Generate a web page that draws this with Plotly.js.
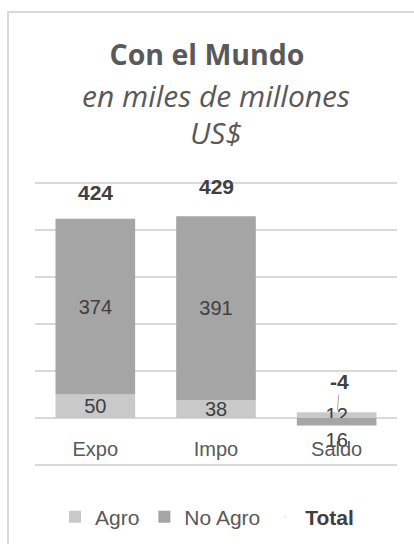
<!DOCTYPE html>
<html><head><meta charset="utf-8">
<script src="https://cdn.plot.ly/plotly-3.0.1.min.js"></script>
<style>
html,body{margin:0;padding:0;background:#fff;overflow:hidden;}
#wrap{position:relative;width:414px;height:544px;overflow:hidden;}
#chart{position:absolute;left:0;top:0;width:414px;height:544px;}
#frame{position:absolute;left:7px;top:11px;width:460px;height:600px;border-left:2px solid #d9d9d9;border-top:2px solid #d9d9d9;pointer-events:none;}
</style></head><body>
<div id="wrap"><div id="chart"></div><div id="frame"></div></div>
<script>
// Data
const categories = ['Expo', 'Impo', 'Saldo'];
const agro = [50, 38, 12];
const noAgro = [374, 391, -16];
const totals = [424, 429, -4];

const SANS = '"Liberation Sans", Arial, "DejaVu Sans", sans-serif';
const TITLEF = '"Open Sans", "Noto Sans", sans-serif';

const traces = [
  {
    type: 'bar', name: 'Agro', x: categories, y: agro,
    marker: {color: '#c9c9c9'},
    text: agro.map(v => String(Math.abs(v))),
    textposition: 'inside', insidetextanchor: 'middle', textangle: 0, constraintext: 'none',
    textfont: {family: SANS, size: 20, color: '#404040'},
    hoverinfo: 'skip'
  },
  {
    type: 'bar', name: 'No Agro', x: categories, y: noAgro,
    marker: {color: '#a5a5a5'},
    text: noAgro.map(v => String(Math.abs(v))),
    textposition: noAgro.map(v => v < 0 ? 'outside' : 'inside'),
    insidetextanchor: 'middle', textangle: 0, constraintext: 'none', cliponaxis: false,
    textfont: {family: SANS, size: 20, color: '#404040'},
    hoverinfo: 'skip'
  },
  {
    type: 'scatter', mode: 'markers', name: '<b><span style="color:#404040">Total</span></b>',
    x: categories, y: totals,
    marker: {opacity: 0, size: 1},
    hoverinfo: 'skip'
  }
];

const totalShift = [26, 30, 0];
const totalAnn = totals.map((v, i) => {
  const a = {
    x: categories[i], y: v, xref: 'x', yref: 'y',
    text: '<b>' + v + '</b>',
    font: {family: SANS, size: 21, color: '#404040'}
  };
  if (v < 0) {
    Object.assign(a, {showarrow: true, arrowhead: 0, arrowwidth: 1, arrowcolor: '#a6a6a6', ax: 3, ay: -38, standoff: 10});
  } else {
    Object.assign(a, {showarrow: false, yshift: totalShift[i]});
  }
  return a;
});

const PLOT_TOP = 181, PLOT_BOTTOM = 467, PLOT_H = PLOT_BOTTOM - PLOT_TOP;
const Y_RANGE = [-104.25, 504.25];

const subtitleAnn = [
  {xref: 'paper', yref: 'paper', x: 0.5, y: (PLOT_BOTTOM - 96) / PLOT_H, yanchor: 'middle', showarrow: false,
   text: '<i>en miles de millones</i>', font: {family: TITLEF, size: 30, color: '#595959'}},
  {xref: 'paper', yref: 'paper', x: 0.5, y: (PLOT_BOTTOM - 133) / PLOT_H, yanchor: 'middle', showarrow: false,
   text: '<i>US$</i>', font: {family: TITLEF, size: 30, color: '#595959'}}
];

const layout = {
  width: 414, height: 544,
  margin: {l: 35, r: 17, t: PLOT_TOP, b: 544 - PLOT_BOTTOM},
  paper_bgcolor: '#ffffff', plot_bgcolor: '#ffffff',
  barmode: 'relative', bargap: 0.34,
  hovermode: false,
  title: {text: '<b>Con el Mundo</b>', x: 0.5, xanchor: 'center', y: 1 - 55/544, yanchor: 'middle', yref: 'container',
          font: {family: TITLEF, size: 28.5, color: '#595959'}},
  xaxis: {
    type: 'category', anchor: 'free', position: -Y_RANGE[0] / (Y_RANGE[1] - Y_RANGE[0]),
    showline: false, showgrid: false, zeroline: false,
    ticks: 'outside', ticklen: 13, tickcolor: 'rgba(0,0,0,0)',
    tickfont: {family: SANS, size: 20, color: '#595959'}
  },
  yaxis: {
    range: Y_RANGE, dtick: 100, tick0: 0,
    showticklabels: false, ticks: '',
    showgrid: true, gridcolor: '#d9d9d9', gridwidth: 1.5,
    zeroline: true, zerolinecolor: '#d9d9d9', zerolinewidth: 1.5,
    fixedrange: true
  },
  showlegend: true,
  legend: {orientation: 'h', x: 0.5, xanchor: 'center', xref: 'container',
           y: 1 - 517/544, yanchor: 'middle', yref: 'container',
           font: {family: SANS, size: 21, color: '#595959'}, traceorder: 'normal'},
  annotations: totalAnn.concat(subtitleAnn)
};

Plotly.newPlot('chart', traces, layout, {displayModeBar: false, staticPlot: true});
</script>
</body></html>
